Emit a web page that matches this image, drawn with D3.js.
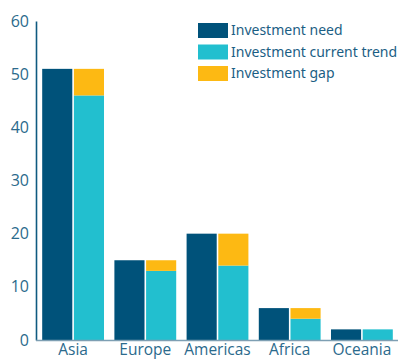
<!DOCTYPE html>
<html>
<head>
<meta charset="utf-8">
<script src="https://cdn.jsdelivr.net/npm/d3@7"></script>
<style>
  body { margin: 0; background: #fff; }
  .tick text { font-family: "Open Sans", sans-serif; }
</style>
</head>
<body>
<div id="chart"></div>
<script>
// values
const regions = ['Asia', 'Europe', 'Americas', 'Africa', 'Oceania'];
const need = [51, 15, 20, 6, 2];
const currentTrend = [46, 13, 14, 4, 2];
const yTicks = [0, 10, 20, 30, 40, 50, 60];
const legendLabels = ['Investment need', 'Investment current trend', 'Investment gap'];
const colors = ['#00527a', '#22bfcf', '#fdb913'];

const W = 401, H = 361;
const margin = {top: 21, right: 3, bottom: 21, left: 36};

const svg = d3.select('#chart').append('svg')
  .attr('width', W)
  .attr('height', H);

const x = d3.scaleBand()
  .domain(regions)
  .range([margin.left + 1, W - margin.right])
  .paddingInner(0.1)
  .paddingOuter(0.05);

const inner = d3.scaleBand()
  .domain(['need', 'trend'])
  .range([0, x.bandwidth()])
  .padding(0.05);

const y = d3.scaleLinear()
  .domain([0, 60])
  .range([H - margin.bottom, margin.top]);

const data = regions.map((r, i) => ({
  region: r, need: need[i], trend: currentTrend[i], gap: need[i] - currentTrend[i]
}));

const g = svg.selectAll('.grp')
  .data(data)
  .enter().append('g')
  .attr('class', 'grp')
  .attr('transform', d => 'translate(' + x(d.region) + ',0)');

g.append('rect')
  .attr('x', inner('need'))
  .attr('width', inner.bandwidth())
  .attr('y', d => y(d.need))
  .attr('height', d => y(0) - y(d.need))
  .attr('fill', colors[0]);

g.append('rect')
  .attr('x', inner('trend'))
  .attr('width', inner.bandwidth())
  .attr('y', d => y(d.trend))
  .attr('height', d => y(0) - y(d.trend))
  .attr('fill', colors[1]);

g.filter(d => d.gap > 0).append('rect')
  .attr('x', inner('trend'))
  .attr('width', inner.bandwidth())
  .attr('y', d => y(d.trend + d.gap))
  .attr('height', d => y(d.trend) - y(d.trend + d.gap))
  .attr('fill', colors[2]);

// y axis
const yAxis = svg.append('g')
  .attr('transform', 'translate(' + margin.left + ',0)')
  .call(d3.axisLeft(y).tickValues(yTicks).tickSize(0).tickPadding(7));
yAxis.select('.domain').attr('stroke', '#0f5a80').attr('stroke-width', 1.6);
yAxis.selectAll('text')
  .attr('fill', '#2b6a8c')
  .style('font-size', '16px');

// x axis
const xAxis = svg.append('g')
  .attr('transform', 'translate(0,' + y(0) + ')')
  .call(d3.axisBottom(x).tickSize(0).tickPadding(4));
xAxis.select('.domain')
  .attr('d', 'M' + margin.left + ',0.5H' + (W - margin.right))
  .attr('stroke', '#7e9fb3').attr('stroke-width', 1.5);
xAxis.selectAll('text')
  .attr('fill', '#2b6a8c')
  .style('font-size', '15.5px');

// legend
const leg = svg.selectAll('.leg')
  .data(legendLabels)
  .enter().append('g')
  .attr('class', 'leg')
  .attr('transform', (d, i) => 'translate(198,' + (23 + i * 21.5) + ')');
leg.append('rect')
  .attr('width', 30).attr('height', 15)
  .attr('fill', (d, i) => colors[i]);
leg.append('text')
  .attr('x', 33).attr('y', 7.5).attr('dy', '0.35em')
  .attr('fill', '#1b5e84')
  .style('font-family', '"Noto Sans", sans-serif')
  .style('font-size', '14px')
  .text(d => d);
</script>
</body>
</html>
